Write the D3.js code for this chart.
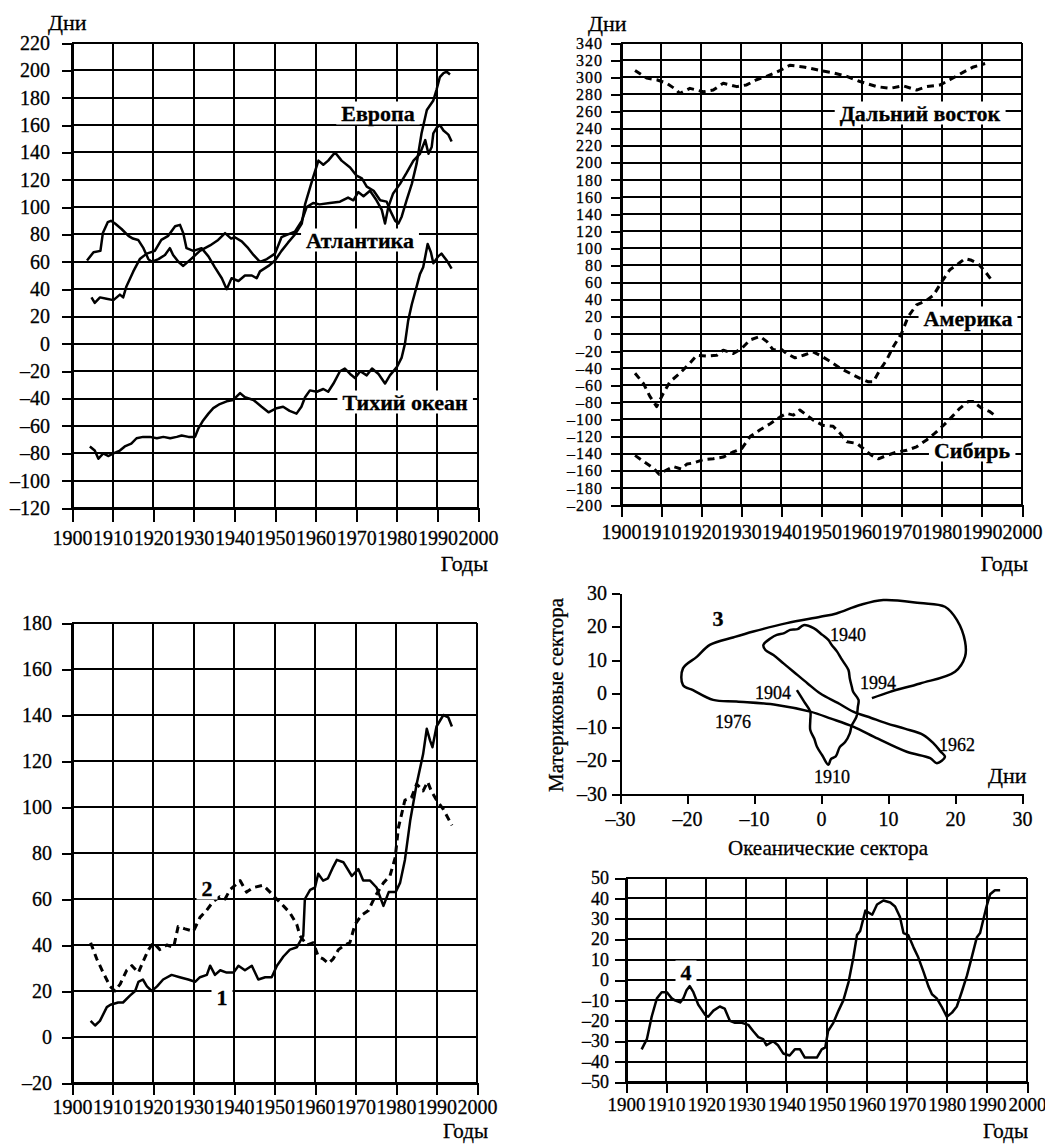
<!DOCTYPE html>
<html>
<head>
<meta charset="utf-8">
<script src="https://cdn.jsdelivr.net/npm/d3@7"></script>
<style>
body { margin: 0; background: #fff; }
svg text { font-family: "Liberation Serif", "DejaVu Serif", serif; fill: #000; stroke: #000; stroke-width: 0.3px; }
</style>
</head>
<body>
<svg id="chart" width="1045" height="1144"></svg>
<script>
// *** Tick labels ***
var decades = [1900, 1910, 1920, 1930, 1940, 1950, 1960, 1970, 1980, 1990, 2000];
var ticksA = [220, 200, 180, 160, 140, 120, 100, 80, 60, 40, 20, 0, -20, -40, -60, -80, -100, -120];
var ticksB = [340, 320, 300, 280, 260, 240, 220, 200, 180, 160, 140, 120, 100, 80, 60, 40, 20, 0,
    -20, -40, -60, -80, -100, -120, -140, -160, -180, -200];
var ticksC = [180, 160, 140, 120, 100, 80, 60, 40, 20, 0, -20];
var ticksE = [50, 40, 30, 20, 10, 0, -10, -20, -30, -40, -50];
var ticksPhase = [-30, -20, -10, 0, 10, 20, 30];

// *** Series: [year, days] ***
var europe = [[1904.8,34],[1905.6,30],[1906.9,34],[1908.5,33],[1910.2,32],[1911.8,36],[1912.6,34],[1913.4,42],
    [1915.1,53],[1916.7,62],[1918.4,66],[1920.4,68],[1922,76],[1923.7,79],[1925.4,86],[1926.6,87],[1927.4,81],
    [1928.2,70],[1929.9,68],[1931.9,70],[1933.6,64],[1935.2,56],[1936.9,48],[1938.1,40],[1939.3,48],[1941,46],
    [1942.6,50],[1944.3,50],[1945.5,48],[1946.3,53],[1948.4,57],[1950,61],[1951.6,68],[1953.2,74],[1954.9,80],
    [1956.6,88],[1957.4,102],[1959.4,122],[1960.7,134],[1961.9,131],[1963.1,134],[1964.8,140],[1966.4,134],
    [1968.5,129],[1970.1,123],[1971.4,121],[1972.6,115],[1974.3,112],[1975.9,105],[1977.5,104],[1978.3,98],
    [1979.6,90],[1980.4,88],[1981.2,93],[1982.4,105],[1983.7,117],[1984.9,132],[1986.1,154],[1987.4,171],
    [1989,178],[1989.8,186],[1990.6,195],[1991.5,198],[1992.3,199],[1993.1,197]];
var atlantic = [[1903.7,61],[1905.3,67],[1907,68],[1907.6,81],[1908.8,89],[1909.6,90],[1910.6,88],[1912.2,84],
    [1913.9,79],[1915,77],[1916.3,76],[1917.6,70],[1918.8,62],[1919.6,60],[1921.3,62],[1922.9,65],[1924.1,70],
    [1924.9,65],[1926.2,60],[1927.4,57],[1929.3,62],[1931.5,68],[1934,72],[1936,76],[1937.7,81],[1939.2,77],
    [1940.1,78],[1941.8,75],[1943.4,70],[1944.7,65],[1946.3,60],[1948,62],[1950,66],[1951.6,78],[1953.2,80],
    [1954.9,82],[1956.6,90],[1957.8,100],[1959.4,103],[1961,102],[1963.5,103],[1966,104],[1968,107],[1969.3,105],
    [1970.5,111],[1971.8,108],[1973.4,112],[1975,105],[1976.3,98],[1977.1,88],[1977.9,100],[1979.1,110],
    [1980.8,117],[1982.4,125],[1984.1,134],[1985.7,139],[1987,149],[1987.8,139],[1988.6,144],[1989,154],
    [1989.8,158],[1990.6,160],[1991.5,156],[1992.7,153],[1993.5,148]];
var pacific = [[1904.4,-75],[1905.6,-78],[1906.5,-84],[1907.7,-80],[1909,-82],[1910.2,-80],[1911.8,-78],[1913,-75],
    [1914.6,-73],[1915.9,-69],[1917.5,-68],[1919.2,-68],[1920.9,-69],[1922.5,-68],[1924.2,-69],[1925.8,-68],
    [1927,-67],[1928.7,-68],[1930.3,-68],[1931.1,-62],[1932.3,-56],[1933.6,-51],[1934.8,-47],[1936.4,-44],
    [1938.1,-42],[1939.7,-41],[1941.4,-36],[1942.6,-39],[1944.7,-41],[1946.7,-46],[1948.4,-50],[1950.4,-47],
    [1952,-46],[1953.6,-49],[1955.3,-51],[1956.5,-46],[1957.4,-39],[1958.6,-34],[1960.3,-35],[1961.9,-33],
    [1963.1,-35],[1964.4,-29],[1966,-20],[1967.2,-18],[1968.5,-22],[1969.7,-25],[1971,-20],[1972.6,-23],
    [1973.9,-18],[1975.5,-22],[1977.1,-29],[1978.3,-23],[1980,-17],[1981.2,-10],[1982,0],[1982.8,17],
    [1983.7,29],[1984.9,42],[1985.7,51],[1986.5,56],[1987.6,73],[1988.4,67],[1989,59],[1990.2,64],[1991,66],
    [1992.3,61],[1993.5,55]];
var farEast = [[1903.5,308],[1906.4,299],[1908.9,297],[1911.4,293],[1913.9,285],[1914.6,281],[1917.2,287],
    [1920.5,283],[1923,285],[1925.5,293],[1928.9,289],[1931.3,291],[1933.8,297],[1936.3,301],[1938.8,306],
    [1939.7,308],[1942.1,314],[1945.5,312],[1949.6,308],[1953,305],[1956.3,301],[1959.6,295],[1963.8,289],
    [1967.1,287],[1970.4,290],[1973.7,285],[1976.2,289],[1979.6,291],[1982,297],[1985.4,306],[1987.9,312],
    [1990.8,316]];
var america = [[1903.5,-46],[1905.6,-58],[1907.2,-73],[1908.9,-85],[1910.5,-70],[1912.2,-56],[1914.7,-46],
    [1917.2,-34],[1918.9,-25],[1921.4,-26],[1923.9,-25],[1925.5,-19],[1928,-23],[1930.1,-17],[1932.2,-7],
    [1934.7,-3],[1936.4,-9],[1938,-19],[1939.7,-17],[1941.3,-23],[1943.4,-28],[1945.5,-25],[1947.9,-21],
    [1949.6,-25],[1952.1,-32],[1954.6,-40],[1957.1,-46],[1959.6,-52],[1961.7,-56],[1962.9,-56],[1964.6,-42],
    [1966.3,-30],[1967.9,-15],[1970,1],[1971.6,20],[1973.7,34],[1975.8,38],[1977.9,45],[1980,61],[1982,75],
    [1984.1,82],[1985.8,88],[1987.4,86],[1989.1,82],[1990.8,73],[1992.4,63]];
var siberia = [[1903.5,-142],[1905.6,-149],[1908.1,-157],[1909.5,-164],[1911,-160],[1913,-155],[1915,-158],
    [1916.5,-152],[1918,-151],[1920.5,-147],[1923,-146],[1925.5,-144],[1928,-138],[1930.1,-134],[1932.2,-120],
    [1934.7,-112],[1937.2,-105],[1939.7,-97],[1941.3,-93],[1943,-95],[1944.6,-89],[1946.3,-95],[1948,-101],
    [1950.4,-107],[1952.9,-108],[1954.6,-116],[1956.3,-126],[1958.8,-128],[1960.4,-134],[1962.5,-142],
    [1964.2,-146],[1966.3,-142],[1968.8,-138],[1971.3,-136],[1973.7,-132],[1976.2,-124],[1978.3,-116],
    [1980.4,-107],[1982.5,-97],[1984.5,-87],[1986.6,-79],[1987.8,-79],[1990,-87],[1992,-91],[1993.7,-97]];
var curve1 = [[1904.6,7],[1905.7,5],[1906.9,7],[1908.6,13],[1909.5,14],[1911.4,15],[1912.6,15],[1914.3,18],
    [1915.6,20],[1916.4,24],[1917.5,25],[1918.5,22],[1919.7,20],[1921,22],[1922.5,25],[1924.6,27],[1926.6,26],
    [1928.7,25],[1930.4,24],[1931.6,26],[1933.3,27],[1934.1,31],[1935.3,27],[1936.6,29],[1938.2,28],[1939.9,28],
    [1941.1,31],[1942.7,29],[1944.4,31],[1946,25],[1947.7,26],[1949.3,26],[1950.6,31],[1952.2,35],[1953.8,38],
    [1955.5,39],[1957.1,44],[1957.5,60],[1958.8,64],[1960,65],[1960.8,71],[1962,68],[1963.2,69],[1964.5,74],
    [1965.4,77],[1967,76],[1969.1,70],[1970.7,73],[1971.9,68],[1973.6,68],[1975.2,65],[1976.9,57],[1978.2,63],
    [1979.9,63],[1981,67],[1982.2,77],[1983.5,94],[1985.1,110],[1986.7,123],[1987.6,134],[1988.4,129],
    [1989,126],[1990,135],[1991.7,140],[1992.9,139],[1993.8,135]];
var curve2 = [[1904.6,41],[1906.1,34],[1907.7,28],[1909.4,22],[1910.6,20],[1911.9,23],[1913.5,29],[1914.8,31],
    [1916.4,28],[1917.6,33],[1918.9,38],[1920.1,41],[1921.7,38],[1923.4,40],[1925.1,39],[1926.2,48],[1927.9,47],
    [1930,46],[1931.6,52],[1933.2,55],[1934.9,59],[1936.5,61],[1937.8,60],[1939,64],[1940.3,66],[1941.5,68],
    [1943.1,63],[1944.8,65],[1947.2,66],[1948.9,63],[1950.5,60],[1952.2,57],[1953.8,54],[1955.5,49],[1956.3,44],
    [1958,40],[1959.6,41],[1960.8,35],[1962,34],[1963.3,32],[1964.5,34],[1965.8,38],[1967.4,40],[1968.6,41],
    [1969.9,49],[1971.5,53],[1973.2,55],[1974.8,61],[1976.9,67],[1978.5,70],[1979.8,78],[1980.6,91],
    [1982.2,103],[1983.8,104],[1985.1,110],[1986.7,107],[1987.8,111],[1988.7,107],[1990,103],[1991.7,99],
    [1993.8,92]];
var curve4 = [[1903.9,-34],[1905.2,-29],[1906.4,-18],[1907.7,-9],[1908.9,-6],[1910.2,-6],[1911.4,-9],[1912.2,-10],
    [1913.5,-11],[1914.3,-9],[1915.1,-5],[1915.9,-3],[1916.8,-6],[1918,-12],[1919.7,-17],[1920.5,-18],
    [1921.8,-15],[1923.4,-13],[1924.6,-14],[1925.9,-20],[1927.2,-21],[1928.9,-21],[1930.5,-22],[1931.7,-25],
    [1933,-28],[1934.2,-29],[1935,-32],[1936.7,-30],[1937.9,-32],[1939.2,-36],[1940.8,-37],[1942.1,-34],
    [1943.4,-34],[1944.6,-38],[1945.9,-38],[1947.6,-38],[1948.8,-34],[1949.7,-33],[1950.4,-25],[1951.7,-21],
    [1953,-15],[1954.2,-10],[1955.5,-1],[1956.7,11],[1957.6,22],[1958.4,24],[1959.7,34],[1961.4,32],[1962.6,37],
    [1964.2,39],[1965.9,38],[1967.1,36],[1968.3,31],[1969.2,23],[1970.4,22],[1971.7,16],[1972.9,11],[1974.2,4],
    [1975.4,-3],[1976.3,-7],[1977.5,-9],[1978.7,-13],[1980,-18],[1981.3,-16],[1982.5,-13],[1983.7,-6],[1985,2],
    [1986.2,11],[1987.5,21],[1988.3,23],[1989.9,36],[1990.8,42],[1992,44],[1993.3,44]];

// *** Phase curve: [oceanic sectors, continental sectors], 1904 -> 1994 ***
var phase = [[-3.6,1.0],[-2.5,-2.5],[-1.6,-5.4],[-1.6,-8],[-1.6,-10.9],[-1.0,-13.5],[-0.6,-15.9],[0.2,-18.5],
    [1.1,-21.3],[1.5,-19.5],[2.2,-18.8],[2.8,-16],[3.6,-14.5],[4.3,-11.9],[4.6,-9.5],[5.3,-6.9],[5.5,-4],
    [5.6,-1.9],[4.8,0.5],[4.6,2.0],[4.3,4.5],[4.1,7.0],[3.5,9],[3.0,10.5],[2.4,12.5],[1.6,14.5],[1.1,16],
    [0.2,17.5],[-1.1,19.5],[-2.6,20.4],[-3.5,19.2],[-4.6,19],[-5.5,18],[-6.6,17.5],[-7.5,16.5],[-8.6,14.5],
    [-8.3,13],[-7.1,11.5],[-5.6,9],[-4.1,6.5],[-2.0,3.0],[-0.1,0],[2.5,-2.8],[4.8,-5.4],[7.5,-7.3],[9.8,-8.9],
    [12.5,-10.5],[15.3,-12.4],[16.8,-14.9],[17.8,-17.2],[18.5,-18.9],[17.3,-20.8],[16.3,-19.3],[12.8,-17.4],
    [8.5,-13.5],[4.8,-9.9],[1.5,-7.5],[-1.6,-5.4],[-6.6,-3.4],[-12.6,-2.4],[-16.1,-1.9],[-19.1,1.0],[-20.6,2.5],
    [-20.6,7.5],[-18.5,11],[-16.6,14.5],[-13,16.8],[-10.1,18.5],[-5.1,21],[-0.1,22.9],[2.3,23.9],[5.8,26.4],
    [9.3,27.9],[14.8,27],[18.5,25.9],[20.3,21.9],[21.5,15.5],[21.5,11],[20,6.5],[14.8,3.0],[10.3,0.5],[7.6,-1.4]];

var svg = d3.select("#chart");
var ink = "#000";

function fmt(d) { return d < 0 ? "\u2013" + Math.abs(d) : String(d); }

function styleAxis(g, size, spacing) {
    g.selectAll(".domain").attr("stroke", ink).attr("stroke-width", 2).attr("shape-rendering", "crispEdges");
    g.selectAll(".tick line").attr("stroke", ink).attr("stroke-width", 2).attr("shape-rendering", "crispEdges");
    g.selectAll(".tick text").style("font-size", size + "px").style("letter-spacing", (spacing || 0) + "px");
}

// *** A gridded time panel ***
function gridPanel(p) {
    var x = d3.scaleLinear().domain([1900, 2000]).range([p.left, p.right]);
    var y = d3.scaleLinear().domain([p.yMin, p.yMax]).range([p.bottom, p.top]);
    var g = svg.append("g");

    g.selectAll(".hgrid").data(p.yTicks).enter().append("line")
        .attr("x1", p.left).attr("x2", p.right)
        .attr("y1", function (d) { return y(d); })
        .attr("y2", function (d) { return y(d); })
        .attr("stroke", ink).attr("stroke-width", 2).attr("shape-rendering", "crispEdges");
    g.selectAll(".vgrid").data(decades).enter().append("line")
        .attr("x1", function (d) { return x(d); })
        .attr("x2", function (d) { return x(d); })
        .attr("y1", p.top).attr("y2", p.bottom)
        .attr("stroke", ink).attr("stroke-width", 2).attr("shape-rendering", "crispEdges");

    var yAxis = d3.axisLeft(y).tickValues(p.yTicks).tickSizeInner(p.tick).tickSizeOuter(0)
        .tickPadding(p.pad).tickFormat(fmt);
    var ay = g.append("g").attr("transform", "translate(" + p.left + ",0)").call(yAxis);
    styleAxis(ay, p.yFont || p.font, p.ySpacing);

    var xAxis = d3.axisBottom(x).tickValues(decades).tickSizeInner(p.xTick).tickSizeOuter(0)
        .tickPadding(p.xPad).tickFormat(d3.format("d"));
    var ax = g.append("g").attr("transform", "translate(0," + p.bottom + ")").call(xAxis);
    styleAxis(ax, p.font);

    return { x: x, y: y, g: g };
}

function drawSeries(panel, data, dashed) {
    var line = d3.line()
        .x(function (d) { return panel.x(d[0]); })
        .y(function (d) { return panel.y(d[1]); });
    panel.g.append("path").datum(data)
        .attr("d", line)
        .attr("fill", "none")
        .attr("stroke", ink)
        .attr("stroke-width", dashed ? 3 : 2.5)
        .attr("stroke-dasharray", dashed ? "7,5" : null)
        .attr("stroke-linejoin", "round");
}

function plainText(x, y, str, size, anchor) {
    return svg.append("text").attr("x", x).attr("y", y)
        .attr("text-anchor", anchor || "start")
        .style("font-size", size + "px")
        .text(str);
}

// label with a white box behind it (hides the grid)
function boxedLabel(x, y, str, size) {
    var t = svg.append("text").attr("x", x).attr("y", y)
        .attr("text-anchor", "middle").attr("dominant-baseline", "central")
        .style("font-size", size + "px").style("font-weight", "bold")
        .text(str);
    var b = t.node().getBBox();
    svg.insert("rect", function () { return t.node(); })
        .attr("x", b.x - 5).attr("y", b.y + 1)
        .attr("width", b.width + 10).attr("height", b.height - 2)
        .attr("fill", "#fff");
}

// *** Panel A: Europe / Atlantic / Pacific ***
var pA = gridPanel({ left: 72, right: 478, top: 43, bottom: 508, yMin: -120, yMax: 220, yTicks: ticksA,
    tick: 10, pad: 12, xTick: 14, xPad: 9, font: 20 });
drawSeries(pA, atlantic, false);
drawSeries(pA, europe, false);
drawSeries(pA, pacific, false);

// *** Panel B: Far East / America / Siberia ***
var pB = gridPanel({ left: 621, right: 1022, top: 43, bottom: 505, yMin: -200, yMax: 340, yTicks: ticksB,
    tick: 10, pad: 8, xTick: 12, xPad: 8, font: 20, yFont: 16, ySpacing: 1 });
drawSeries(pB, farEast, true);
drawSeries(pB, america, true);
drawSeries(pB, siberia, true);

// *** Panel C: curves 1 and 2 ***
var pC = gridPanel({ left: 72, right: 477, top: 623, bottom: 1083, yMin: -20, yMax: 180, yTicks: ticksC,
    tick: 10, pad: 10, xTick: 12, xPad: 5, font: 20 });
drawSeries(pC, curve2, true);
drawSeries(pC, curve1, false);

// *** Panel E: curve 4 ***
var pE = gridPanel({ left: 626, right: 1027, top: 878, bottom: 1082, yMin: -50, yMax: 50, yTicks: ticksE,
    tick: 11, pad: 6, xTick: 11, xPad: 5, font: 19, yFont: 18 });
drawSeries(pE, curve4, false);

// *** Panel D: phase plot ***
var phx = d3.scaleLinear().domain([-30, 30]).range([620, 1022]);
var phy = d3.scaleLinear().domain([-30, 30]).range([794, 593]);
var gD = svg.append("g");
var dy = gD.append("g").attr("transform", "translate(620,0)")
    .call(d3.axisLeft(phy).tickValues(ticksPhase).tickSizeInner(8).tickSizeOuter(0).tickPadding(5).tickFormat(fmt));
styleAxis(dy, 20);
var dx = gD.append("g").attr("transform", "translate(0,794)")
    .call(d3.axisBottom(phx).tickValues(ticksPhase).tickSizeInner(10).tickSizeOuter(0).tickPadding(8).tickFormat(fmt));
styleAxis(dx, 20);
gD.append("path").datum(phase)
    .attr("d", d3.line()
        .x(function (d) { return phx(d[0]); })
        .y(function (d) { return phy(d[1]); })
        .curve(d3.curveCatmullRom.alpha(0.5)))
    .attr("fill", "none").attr("stroke", ink).attr("stroke-width", 2.5).attr("stroke-linejoin", "round");

var phaseYears = [["1940", 848, 635], ["1994", 878, 683], ["1904", 773, 693], ["1976", 733, 722],
    ["1962", 957, 745], ["1910", 832, 777]];
phaseYears.forEach(function (d) {
    svg.append("text").attr("x", d[1]).attr("y", d[2])
        .attr("text-anchor", "middle").attr("dominant-baseline", "central")
        .style("font-size", "18px").text(d[0]);
});

// *** Axis titles ***
plainText(48, 30, "Дни", 22);
plainText(588, 31, "Дни", 22);
plainText(988, 783, "Дни", 22);
plainText(488, 571, "Годы", 22, "end");
plainText(1028, 571, "Годы", 22, "end");
plainText(488, 1138, "Годы", 21, "end");
plainText(1028, 1138, "Годы", 21, "end");
plainText(828, 855, "Океанические сектора", 21, "middle");
svg.append("text").attr("transform", "translate(563,695) rotate(-90)")
    .attr("text-anchor", "middle").style("font-size", "21px").text("Материковые сектора");

// *** Series labels ***
boxedLabel(378, 113, "Европа", 22);
boxedLabel(360, 240, "Атлантика", 22);
boxedLabel(405, 402, "Тихий океан", 22);
boxedLabel(920, 113, "Дальний восток", 22);
boxedLabel(968, 318, "Америка", 22);
boxedLabel(972, 450, "Сибирь", 22);
boxedLabel(207, 888, "2", 22);
boxedLabel(222, 997, "1", 22);
boxedLabel(686, 972, "4", 22);
boxedLabel(718, 618, "3", 22);
</script>
</body>
</html>
